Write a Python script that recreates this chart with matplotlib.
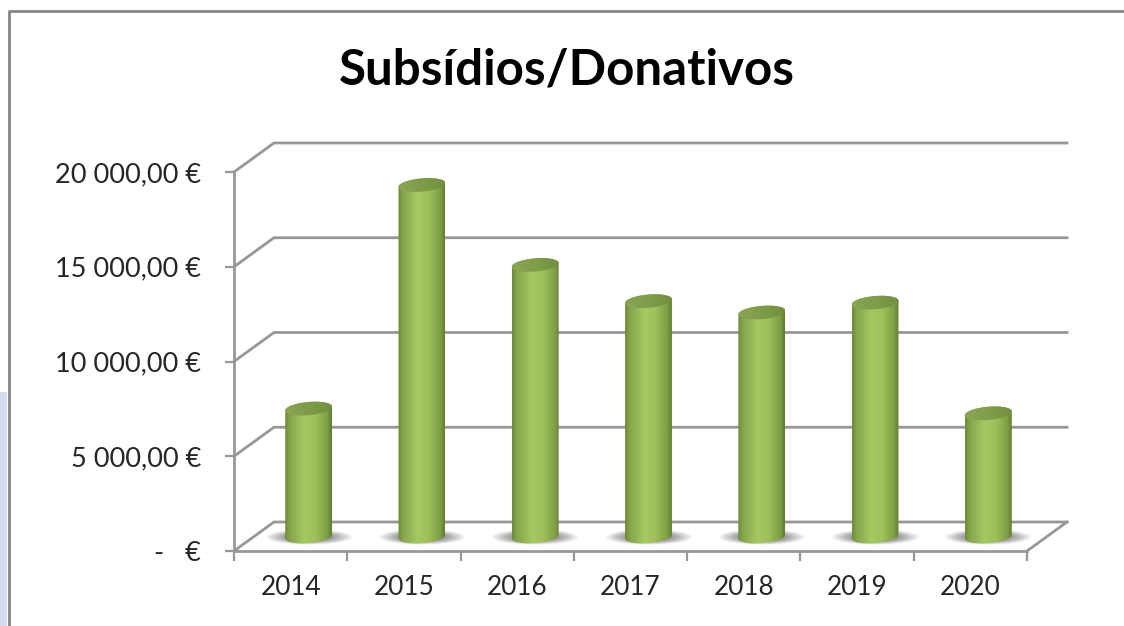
import numpy as np
import matplotlib
matplotlib.use("Agg")
import matplotlib.pyplot as plt
from matplotlib.colors import LinearSegmentedColormap
from matplotlib.lines import Line2D
from matplotlib.patches import Polygon, Rectangle

years = ["2014", "2015", "2016", "2017", "2018", "2019", "2020"]
values = [6750, 18550, 14330, 12420, 11820, 12340, 6500]
ytick_values = [0, 5000, 10000, 15000, 20000]
ytick_labels = ["-   €", "5 000,00 €", "10 000,00 €", "15 000,00 €", "20 000,00 €"]
title = "Subsídios/Donativos"

W, H = 1124, 626
L, R, B, T = 234, 1027, 551, 172
plt.rcParams["font.family"] = ["Lato", "DejaVu Sans"]
fig = plt.figure(figsize=(W / 100, H / 100), dpi=100, facecolor="white")
ax = fig.add_axes([L / W, 1 - B / H, (R - L) / W, (B - T) / H])
ax.patch.set_visible(False)
n = len(years)
ux = n / (R - L)          # data units per pixel, x
uy = 20000 / (B - T)      # data units per pixel, y
GRID = "#979797"
DX, DY = 40 * ux, 29 * uy

# walls and floor
for v in ytick_values:
    ax.plot([0, DX, n + DX], [v, v + DY, v + DY], color=GRID, lw=2.0,
            clip_on=False, zorder=1, solid_joinstyle="miter")
ax.plot([n, n + DX], [0, DY], color=GRID, lw=2.0, clip_on=False, zorder=1)

body_cmap = LinearSegmentedColormap.from_list(
    "cyl", [(0, "#6d8a38"), (0.10, "#85a54c"), (0.42, "#a6c962"),
            (0.65, "#9fc05b"), (0.90, "#7f9f45"), (1, "#627e2e")])
cap_cmap = LinearSegmentedColormap.from_list(
    "cap", [(0, "#8aa654"), (0.6, "#7d9a48"), (1, "#728e40")])
grad = np.linspace(0, 1, 128)[None, :]

RX, RY, tilt = 23.5, 6.6, np.deg2rad(5)
t = np.linspace(0, 2 * np.pi, 121)


def ellipse(cx, cy, tt):
    # half-axes in pixels, tilted, returned in data units
    px = RX * np.cos(tt) * np.cos(tilt) - RY * np.sin(tt) * np.sin(tilt)
    py = RX * np.cos(tt) * np.sin(tilt) + RY * np.sin(tt) * np.cos(tilt)
    return cx + px * ux, cy + py * uy


base_y = 14.5 * uy
for i, v in enumerate(values):
    cx = i + 0.5 + 18 * ux
    # floor shadow
    X, Y = np.meshgrid(np.linspace(-1, 1, 160), np.linspace(-1, 1, 40))
    alpha = np.clip(1 - np.sqrt(X ** 2 + Y ** 2), 0, 1) ** 0.9 * 1.0
    rgba = np.zeros((40, 160, 4))
    rgba[..., :3] = 0.40
    rgba[..., 3] = np.clip(alpha * 1.3, 0, 1)
    ax.imshow(rgba, extent=[cx - 44 * ux, cx + 44 * ux, base_y - 8 * uy, base_y + 8 * uy],
              aspect="auto", zorder=2, clip_on=False)
    # body
    bx, by = ellipse(cx, base_y, t[t >= np.pi])
    upx, upy = ellipse(cx, v + base_y, t[t <= np.pi])
    outline = np.column_stack([np.r_[bx, upx], np.r_[by, upy]])
    clip = Polygon(outline, transform=ax.transData, fc="none", ec="none")
    ax.add_patch(clip)
    im = ax.imshow(grad, cmap=body_cmap, aspect="auto", zorder=3,
                   extent=[cx - RX * ux, cx + RX * ux, 0, v + 2 * base_y])
    im.set_clip_path(clip)
    # top cap
    tx, ty = ellipse(cx, v + base_y, t)
    cap = Polygon(np.column_stack([tx, ty]), transform=ax.transData, fc="none", ec="none")
    ax.add_patch(cap)
    im2 = ax.imshow(grad, cmap=cap_cmap, aspect="auto", zorder=4,
                    extent=[cx - RX * ux, cx + RX * ux, v, v + 2 * base_y])
    im2.set_clip_path(cap)

ax.set_xlim(0, n)
ax.set_ylim(0, 20000)
for s in ["top", "right"]:
    ax.spines[s].set_visible(False)
for s in ["left", "bottom"]:
    ax.spines[s].set_color(GRID)
    ax.spines[s].set_linewidth(2.0)
ax.set_yticks(ytick_values, ytick_labels)
ax.set_xticks(np.arange(n + 1))
ax.set_xticklabels([])
ax.set_xticks(np.arange(n) + 0.5, years, minor=True)
ax.tick_params(axis="y", length=6.5, width=1.6, color=GRID, labelsize=19.5,
               labelcolor="#262626", pad=17)
ax.tick_params(axis="x", which="major", length=7, width=1.6, color=GRID)
ax.tick_params(axis="x", which="minor", length=0, labelsize=18.8,
               labelcolor="#262626", pad=17)

# chart frame and the sliver of slide behind it
fig.add_artist(Rectangle((0, 0), 7 / W, 1 - 392 / H, transform=fig.transFigure,
                         fc="#d4dcee", ec="none"))
fig.add_artist(Line2D([8.5 / W, 8.5 / W, 1], [0, 1 - 10.5 / H, 1 - 10.5 / H],
                      transform=fig.transFigure, color="#858585", lw=2.0))

fig.text(567 / W, 1 - 70 / H, title, ha="center", va="center", fontsize=35.5,
         fontweight="bold", color="black")

fig.savefig("out.png", dpi=100)
